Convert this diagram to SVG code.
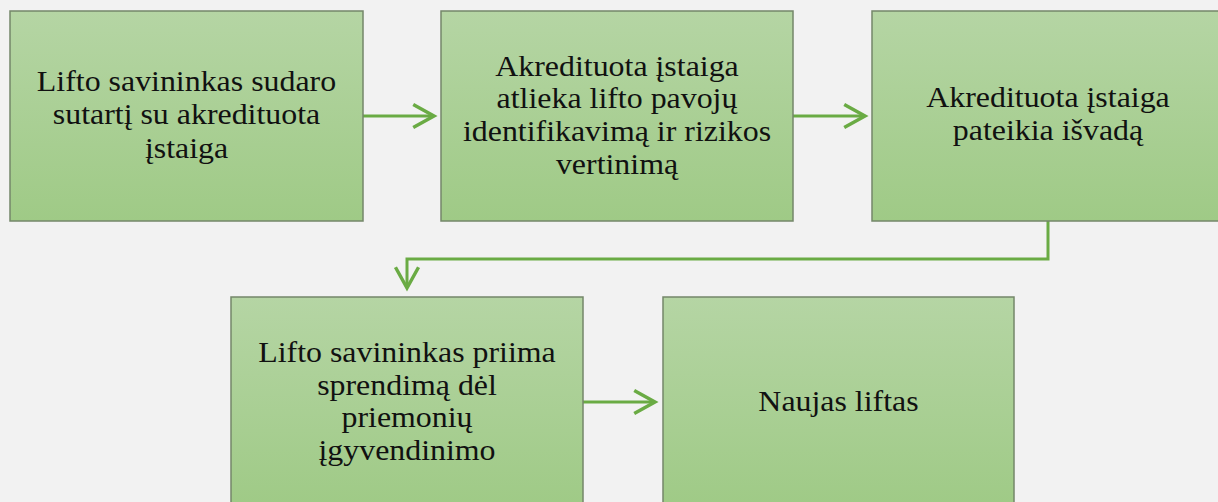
<svg xmlns="http://www.w3.org/2000/svg" width="1218" height="502" viewBox="0 0 1218 502">
<style>
.box{fill:url(#g);stroke:#74876a;stroke-width:1.5}
.t{font-family:"Liberation Serif","Times New Roman",serif;font-size:29px;fill:#111;text-anchor:middle}
.c{fill:none;stroke:#6aab44;stroke-width:3;marker-end:url(#ah)}
</style>
<defs>
<linearGradient id="g" x1="0" y1="0" x2="0" y2="1">
<stop offset="0" stop-color="#b5d5a4"/>
<stop offset="1" stop-color="#9fca86"/>
</linearGradient>
<marker id="ah" markerUnits="userSpaceOnUse" markerWidth="30" markerHeight="30" viewBox="-22 -13 26 26" refX="0" refY="0" orient="auto">
<path d="M-18,-10 L0,0 L-18,10" fill="none" stroke="#6aab44" stroke-width="3"/>
</marker>
</defs>
<rect width="1218" height="502" fill="#f2f2f2"/>
<g id="connectors">
<path class="c" d="M363,116 H434"/>
<path class="c" d="M793,116 H865"/>
<path class="c" d="M1048,221 V259 H407 V288"/>
<path class="c" d="M583,402 H655"/>
</g>
<g id="n1">
<rect class="box" x="10" y="11" width="353" height="210"/>
<g class="t" transform="translate(186.5,0) scale(1.1,1)">
<text x="0" y="91">Lifto savininkas sudaro</text>
<text x="0" y="124.5">sutartį su akredituota</text>
<text x="0" y="158">įstaiga</text>
</g>
</g>
<g id="n2">
<rect class="box" x="441" y="11" width="352" height="210"/>
<g class="t" transform="translate(617,0) scale(1.1,1)">
<text x="0" y="76">Akredituota įstaiga</text>
<text x="0" y="108.5">atlieka lifto pavojų</text>
<text x="0" y="141.5">identifikavimą ir rizikos</text>
<text x="0" y="174">vertinimą</text>
</g>
</g>
<g id="n3">
<rect class="box" x="872" y="11" width="352" height="210"/>
<g class="t" transform="translate(1048,0) scale(1.1,1)">
<text x="0" y="107.5">Akredituota įstaiga</text>
<text x="0" y="140">pateikia išvadą</text>
</g>
</g>
<g id="n4">
<rect class="box" x="231" y="297" width="352" height="210"/>
<g class="t" transform="translate(407,0) scale(1.1,1)">
<text x="0" y="362">Lifto savininkas priima</text>
<text x="0" y="395">sprendimą dėl</text>
<text x="0" y="427.5">priemonių</text>
<text x="0" y="460.5">įgyvendinimo</text>
</g>
</g>
<g id="n5">
<rect class="box" x="663" y="297" width="351" height="210"/>
<g class="t" transform="translate(838.5,0) scale(1.1,1)">
<text x="0" y="411.5">Naujas liftas</text>
</g>
</g>
</svg>
